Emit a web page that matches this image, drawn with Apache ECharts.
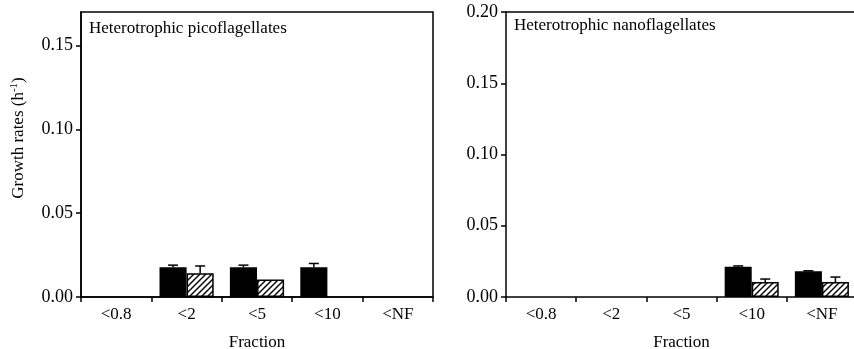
<!DOCTYPE html>
<html><head><meta charset="utf-8">
<script src="https://cdn.jsdelivr.net/npm/echarts@6/dist/echarts.min.js"></script>
<style>html,body{margin:0;padding:0;background:#fff}#c{width:854px;height:349px}</style>
</head><body><div id="c"></div>
<script>
const categories = ['<0.8', '<2', '<5', '<10', '<NF'];
// Heterotrophic picoflagellates
const picoBlack = [null, 0.0177, 0.0177, 0.0177, null];
const picoBlackErr = [null, 0.0013, 0.0013, 0.0023, null];
const picoHatch = [null, 0.0141, 0.0105, null, null];
const picoHatchErr = [null, 0.0044, null, null, null];
const picoYTicks = [0, 0.05, 0.10, 0.15];
const picoYMax = 0.17;
// Heterotrophic nanoflagellates
const nanoBlack = [null, null, null, 0.0213, 0.018];
const nanoBlackErr = [null, null, null, 0.0005, 0.0004];
const nanoHatch = [null, null, null, 0.0105, 0.0105];
const nanoHatchErr = [null, null, null, 0.0021, 0.0035];
const nanoYTicks = [0, 0.05, 0.10, 0.15, 0.20];
const nanoYMax = 0.20;

const FONT = '"Liberation Serif","Times New Roman",serif';
const GAP = 0.23;

function makeHatch() {
  const s = 6;
  const c = document.createElement('canvas');
  c.width = s; c.height = s;
  const g = c.getContext('2d');
  g.fillStyle = '#fff'; g.fillRect(0, 0, s, s);
  g.strokeStyle = '#000'; g.lineWidth = 1.4;
  g.beginPath();
  g.moveTo(0, s); g.lineTo(s, 0);
  g.moveTo(-1, 1); g.lineTo(1, -1);
  g.moveTo(s - 1, s + 1); g.lineTo(s + 1, s - 1);
  g.stroke();
  return c;
}
const hatch = { image: makeHatch(), repeat: 'repeat' };

function errData(vals, errs, side) {
  const out = [];
  vals.forEach((v, i) => {
    if (v != null && errs[i] != null) out.push([i, v, errs[i], side]);
  });
  return out;
}

function renderErr(params, api) {
  const cat = api.value(0), v = api.value(1), e = api.value(2), side = api.value(3);
  const bw = api.size([1, 0])[0] * (1 - GAP) / 2;
  const p1 = api.coord([cat, v]);
  const p2 = api.coord([cat, v + e]);
  const x = p1[0] + side * bw / 2;
  const st = { stroke: '#000', lineWidth: 1.5 };
  return {
    type: 'group',
    children: [
      { type: 'line', shape: { x1: x, y1: p1[1], x2: x, y2: p2[1] }, style: st },
      { type: 'line', shape: { x1: x - 5, y1: p2[1], x2: x + 5, y2: p2[1] }, style: st }
    ]
  };
}

function xAxis(gi) {
  return {
    type: 'category', gridIndex: gi, data: categories, position: 'bottom',
    axisLine: { lineStyle: { color: '#000', width: 1.5 } },
    axisTick: { show: true, length: 5, lineStyle: { color: '#000', width: 1.5 } },
    axisLabel: { color: '#000', fontFamily: FONT, fontSize: 17, margin: 9 },
    name: 'Fraction', nameLocation: 'middle', nameGap: 37,
    nameTextStyle: { color: '#000', fontFamily: FONT, fontSize: 17 }
  };
}
function yAxis(gi, ticks, max) {
  return {
    type: 'value', gridIndex: gi, min: 0, max: max, interval: 0.05,
    axisLine: { show: true, lineStyle: { color: '#000', width: 1.5 } },
    axisTick: { show: true, length: 5, customValues: ticks, lineStyle: { color: '#000', width: 1.5 } },
    axisLabel: { color: '#000', fontFamily: FONT, fontSize: 18, margin: 8, customValues: ticks,
      formatter: v => v.toFixed(2) },
    splitLine: { show: false }
  };
}

const chart = echarts.init(document.getElementById('c'), null, { renderer: 'canvas' });
chart.setOption({
  animation: false,
  backgroundColor: '#fff',
  title: [
    { text: 'Heterotrophic picoflagellates', left: 89, top: 20, padding: 0,
      textStyle: { fontFamily: FONT, fontSize: 17, fontWeight: 'normal', color: '#000' } },
    { text: 'Heterotrophic nanoflagellates', left: 514, top: 17, padding: 0,
      textStyle: { fontFamily: FONT, fontSize: 17, fontWeight: 'normal', color: '#000' } }
  ],
  grid: [
    { left: 81, top: 12, width: 352, height: 285, show: true, borderColor: '#000', borderWidth: 1.5,
      containLabel: false, outerBoundsMode: 'none' },
    { left: 506, top: 12, width: 351, height: 285, show: false,
      containLabel: false, outerBoundsMode: 'none' }
  ],
  xAxis: [
    xAxis(0), xAxis(1),
    { type: 'category', gridIndex: 1, data: categories, position: 'top',
      axisLine: { show: true, lineStyle: { color: '#000', width: 1.5 } },
      axisTick: { show: false }, axisLabel: { show: false } }
  ],
  yAxis: [yAxis(0, picoYTicks, picoYMax), yAxis(1, nanoYTicks, nanoYMax)],
  graphic: [{
    type: 'text', x: 19, y: 138, rotation: Math.PI / 2,
    style: {
      text: '{n|Growth rates (h}{s|-1}{n|)}',
      align: 'center', verticalAlign: 'middle',
      rich: {
        n: { fontFamily: FONT, fontSize: 17, fill: '#000' },
        s: { fontFamily: FONT, fontSize: 11, fill: '#000', padding: [0, 0, 9, 0] }
      }
    }
  }],
  series: [
    { type: 'bar', xAxisIndex: 0, yAxisIndex: 0, data: picoBlack, barGap: '0%', barCategoryGap: '23%',
      itemStyle: { color: '#000', borderColor: '#000', borderWidth: 1.5 } },
    { type: 'bar', xAxisIndex: 0, yAxisIndex: 0, data: picoHatch, barGap: '0%', barCategoryGap: '23%',
      itemStyle: { color: hatch, borderColor: '#000', borderWidth: 1.5 } },
    { type: 'custom', xAxisIndex: 0, yAxisIndex: 0, renderItem: renderErr, data: errData(picoBlack, picoBlackErr, -1), z: 5 },
    { type: 'custom', xAxisIndex: 0, yAxisIndex: 0, renderItem: renderErr, data: errData(picoHatch, picoHatchErr, 1), z: 5 },
    { type: 'bar', xAxisIndex: 1, yAxisIndex: 1, data: nanoBlack, barGap: '0%', barCategoryGap: '23%',
      itemStyle: { color: '#000', borderColor: '#000', borderWidth: 1.5 } },
    { type: 'bar', xAxisIndex: 1, yAxisIndex: 1, data: nanoHatch, barGap: '0%', barCategoryGap: '23%',
      itemStyle: { color: hatch, borderColor: '#000', borderWidth: 1.5 } },
    { type: 'custom', xAxisIndex: 1, yAxisIndex: 1, renderItem: renderErr, data: errData(nanoBlack, nanoBlackErr, -1), z: 5 },
    { type: 'custom', xAxisIndex: 1, yAxisIndex: 1, renderItem: renderErr, data: errData(nanoHatch, nanoHatchErr, 1), z: 5 }
  ]
});
</script></body></html>
